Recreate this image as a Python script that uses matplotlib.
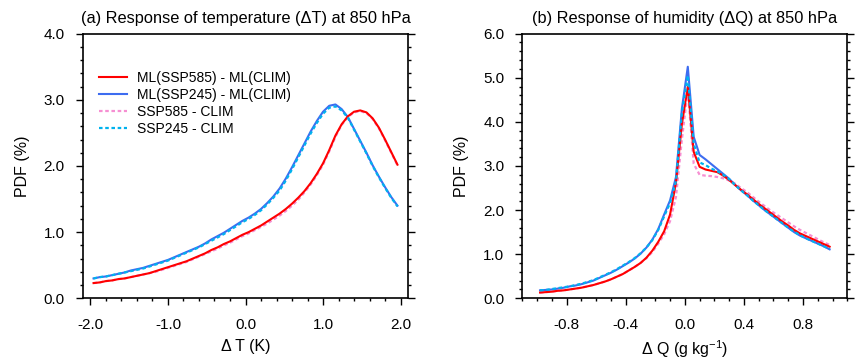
import numpy as np
import matplotlib
matplotlib.use('Agg')
import matplotlib.pyplot as plt
from matplotlib.ticker import MultipleLocator, FormatStrFormatter

plt.rcParams['font.family'] = ['Liberation Sans', 'DejaVu Sans']
plt.rcParams['mathtext.fontset'] = 'custom'
plt.rcParams['mathtext.rm'] = 'Liberation Sans'
plt.rcParams['mathtext.it'] = 'Liberation Sans:italic'
plt.rcParams['axes.unicode_minus'] = False

# ---- panel (a): temperature response, bins of 0.08 K ----
dT = np.round(np.arange(-1.96, 1.97, 0.08), 2)
t_ml585 = [0.23, 0.24, 0.26, 0.27, 0.29, 0.30, 0.32, 0.34, 0.36, 0.38,
           0.41, 0.44, 0.47, 0.50, 0.53, 0.56, 0.60, 0.64, 0.68, 0.73,
           0.77, 0.82, 0.86, 0.91, 0.96, 1.00, 1.05, 1.10, 1.16, 1.22,
           1.28, 1.35, 1.43, 1.52, 1.62, 1.74, 1.88, 2.04, 2.24, 2.46,
           2.63, 2.75, 2.82, 2.84, 2.81, 2.72, 2.58, 2.40, 2.21, 2.02]
t_ml245 = [0.30, 0.32, 0.33, 0.35, 0.37, 0.39, 0.42, 0.44, 0.46, 0.49,
           0.52, 0.55, 0.58, 0.62, 0.66, 0.70, 0.74, 0.78, 0.83, 0.89,
           0.94, 0.99, 1.05, 1.11, 1.17, 1.22, 1.28, 1.35, 1.44, 1.54,
           1.66, 1.81, 1.98, 2.16, 2.34, 2.52, 2.68, 2.82, 2.91, 2.93,
           2.86, 2.74, 2.56, 2.38, 2.20, 2.01, 1.84, 1.68, 1.53, 1.40]
t_585 = [0.23, 0.24, 0.26, 0.27, 0.29, 0.30, 0.32, 0.34, 0.36, 0.38,
         0.40, 0.43, 0.46, 0.49, 0.52, 0.55, 0.59, 0.63, 0.67, 0.71,
         0.75, 0.80, 0.84, 0.89, 0.94, 0.98, 1.03, 1.08, 1.13, 1.19,
         1.25, 1.32, 1.40, 1.49, 1.60, 1.72, 1.86, 2.02, 2.22, 2.44,
         2.62, 2.74, 2.81, 2.83, 2.80, 2.71, 2.57, 2.39, 2.20, 2.01]
t_245 = [0.30, 0.32, 0.33, 0.35, 0.37, 0.39, 0.41, 0.43, 0.45, 0.48,
         0.51, 0.54, 0.57, 0.61, 0.65, 0.69, 0.73, 0.77, 0.82, 0.87,
         0.92, 0.97, 1.03, 1.09, 1.15, 1.20, 1.26, 1.33, 1.42, 1.52,
         1.63, 1.78, 1.95, 2.13, 2.31, 2.49, 2.65, 2.79, 2.88, 2.90,
         2.84, 2.73, 2.55, 2.37, 2.19, 2.00, 1.83, 1.67, 1.52, 1.39]

# ---- panel (b): humidity response, bins of 0.04 g/kg ----
dQ = np.round(np.arange(-0.98, 0.99, 0.04), 2)
q_ml585 = [0.13, 0.14, 0.15, 0.17, 0.18, 0.20, 0.22, 0.24, 0.27, 0.30,
           0.34, 0.38, 0.43, 0.49, 0.55, 0.63, 0.71, 0.80, 0.92, 1.08,
           1.28, 1.52, 1.90, 2.62, 3.95, 4.80, 3.32, 2.98, 2.92, 2.89,
           2.86, 2.78, 2.68, 2.57, 2.46, 2.36, 2.25, 2.14, 2.04, 1.94,
           1.84, 1.74, 1.65, 1.55, 1.47, 1.41, 1.35, 1.29, 1.23, 1.17]
q_ml245 = [0.18, 0.19, 0.20, 0.22, 0.24, 0.27, 0.29, 0.32, 0.36, 0.40,
           0.46, 0.52, 0.58, 0.65, 0.73, 0.81, 0.90, 1.01, 1.15, 1.33,
           1.57, 1.90, 2.22, 2.75, 4.30, 5.25, 3.66, 3.25, 3.15, 3.04,
           2.93, 2.82, 2.71, 2.57, 2.45, 2.34, 2.22, 2.11, 2.00, 1.90,
           1.80, 1.70, 1.60, 1.50, 1.42, 1.36, 1.30, 1.24, 1.18, 1.11]
q_585 = [0.13, 0.14, 0.15, 0.17, 0.18, 0.20, 0.22, 0.24, 0.27, 0.30,
         0.34, 0.38, 0.43, 0.49, 0.55, 0.63, 0.71, 0.80, 0.91, 1.05,
         1.24, 1.45, 1.75, 2.30, 3.60, 4.72, 3.05, 2.80, 2.78, 2.77,
         2.75, 2.72, 2.67, 2.60, 2.50, 2.41, 2.30, 2.19, 2.09, 1.99,
         1.90, 1.81, 1.72, 1.63, 1.55, 1.48, 1.41, 1.34, 1.27, 1.21]
q_245 = [0.18, 0.19, 0.21, 0.23, 0.25, 0.27, 0.30, 0.33, 0.37, 0.41,
         0.47, 0.53, 0.59, 0.66, 0.74, 0.82, 0.91, 1.02, 1.15, 1.32,
         1.55, 1.86, 2.16, 2.65, 4.20, 5.05, 3.50, 3.08, 3.02, 2.94,
         2.88, 2.80, 2.70, 2.57, 2.45, 2.34, 2.22, 2.11, 2.00, 1.90,
         1.80, 1.70, 1.60, 1.51, 1.43, 1.36, 1.30, 1.24, 1.18, 1.12]

labels = ['ML(SSP585) - ML(CLIM)', 'ML(SSP245) - ML(CLIM)',
          'SSP585 - CLIM', 'SSP245 - CLIM']
c_red, c_blue, c_pink, c_cyan = '#ff0000', '#3d6cf0', '#f68fd2', '#00b2ee'
dash = (0, (1.6, 1.2))

fig = plt.figure(figsize=(8.56, 3.62), dpi=100)
ax1 = fig.add_axes([0.0966, 0.176, 0.3804, 0.731])
ax2 = fig.add_axes([0.6102, 0.176, 0.3797, 0.731])


def style_axis(ax):
    for s in ax.spines.values():
        s.set_linewidth(1.2)
    ax.tick_params(which='both', direction='out', left=True, right=True,
                   bottom=True, top=False, labelsize=11, pad=8, width=1.0)
    ax.tick_params(which='major', length=5)
    ax.tick_params(which='minor', length=2.5)
    ax.tick_params(axis='x', pad=9)
    ax.yaxis.set_major_formatter(FormatStrFormatter('%.1f'))
    ax.xaxis.set_major_formatter(FormatStrFormatter('%.1f'))
    ax.yaxis.set_minor_locator(MultipleLocator(0.2))


for ax, x, ys in [(ax1, dT, (t_ml585, t_ml245, t_585, t_245)),
                  (ax2, dQ, (q_ml585, q_ml245, q_585, q_245))]:
    ax.plot(x, ys[2], color=c_pink, lw=1.6, ls=dash, label=labels[2], zorder=2)
    ax.plot(x, ys[3], color=c_cyan, lw=1.6, ls=dash, label=labels[3], zorder=4)
    ax.plot(x, ys[1], color=c_blue, lw=1.5, label=labels[1], zorder=3)
    ax.plot(x, ys[0], color=c_red, lw=1.5, label=labels[0], zorder=3)
    style_axis(ax)
    ax.set_ylabel('PDF (%)', fontsize=11.5, labelpad=10)

ax1.set_xlim(-2.1, 2.1)
ax1.set_ylim(0, 4.0)
ax1.xaxis.set_major_locator(MultipleLocator(1.0))
ax1.xaxis.set_minor_locator(MultipleLocator(0.2))
ax1.yaxis.set_major_locator(MultipleLocator(1.0))
ax1.set_xlabel('\u0394 T (K)', fontsize=11.5, labelpad=5)
ax1.set_title('(a) Response of temperature (\u0394T) at 850 hPa', fontsize=11.8, pad=8)

ax2.set_xlim(-1.1, 1.1)
ax2.set_ylim(0, 6.0)
ax2.set_xticks([-0.8, -0.4, 0.0, 0.4, 0.8])
ax2.xaxis.set_minor_locator(MultipleLocator(0.1))
ax2.yaxis.set_major_locator(MultipleLocator(1.0))
ax2.set_xlabel('\u0394 Q (g kg$^{-1}$)', fontsize=11.5, labelpad=5)
ax2.set_title('(b) Response of humidity (\u0394Q) at 850 hPa', fontsize=11.8, pad=8)

h, l = ax1.get_legend_handles_labels()
order = [l.index(s) for s in labels]
ax1.legend([h[i] for i in order], [l[i] for i in order],
           loc='upper left', bbox_to_anchor=(0.05, 0.86), frameon=False,
           fontsize=10, handlelength=2.0, handletextpad=0.75,
           labelspacing=0.22, borderpad=0, borderaxespad=0)

plt.savefig('out.png', dpi=100)
plt.close()
